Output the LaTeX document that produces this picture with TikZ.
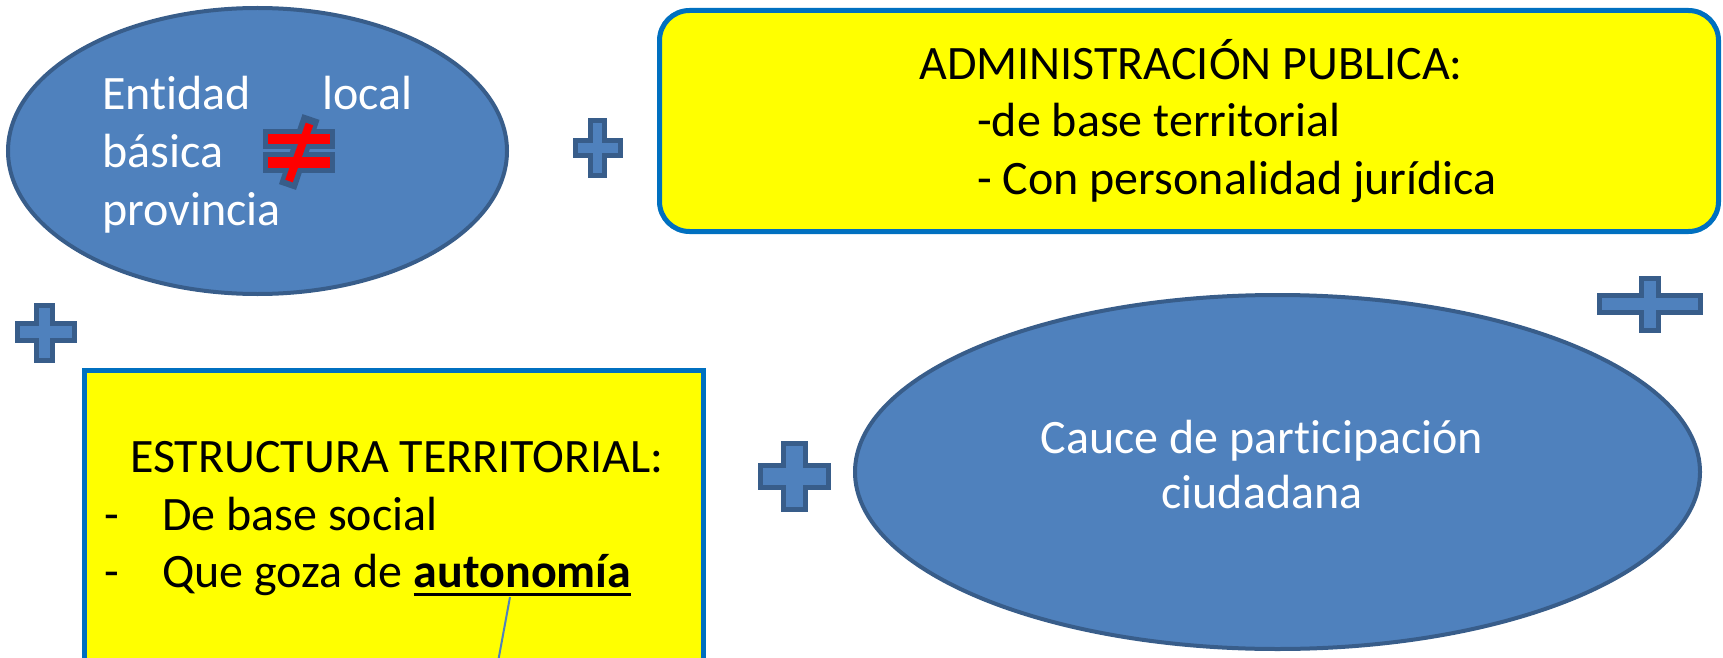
\documentclass[tikz,border=0pt]{standalone}
\usepackage{fontspec}
\setmainfont[Ligatures=NoCommon]{Carlito}
\usetikzlibrary{shapes.geometric}
\definecolor{blueA}{HTML}{4F81BD}
\definecolor{blueB}{HTML}{385D8A}
\definecolor{blueC}{HTML}{0070C0}
\definecolor{yel}{HTML}{FFFF00}
\definecolor{neqred}{HTML}{FF0000}
\tikzset{
  bubble/.style={ellipse, fill=blueA, draw=blueB, line width=4pt, inner sep=0pt},
  notebox/.style={rectangle, fill=yel, draw=blueC, line width=5pt, inner sep=0pt},
  txt/.style={font=\fontsize{48}{57}\selectfont, inner sep=0pt, anchor=base west},
  wtxt/.style={txt, text=white},
  plussign/.style={fill=blueA, draw=blueB, line width=5pt, line join=miter},
  link/.style={draw=blueA, line width=2pt},
  uline/.style={draw=black, line width=3pt},
}
\newcommand\PlusSign[8]{%
  \path[plussign] (#2,#5) -- (#3,#5) -- (#3,#6) -- (#4,#6) -- (#4,#7) -- (#3,#7)
    -- (#3,#8) -- (#2,#8) -- (#2,#7) -- (#1,#7) -- (#1,#6) -- (#2,#6) -- cycle;}
\begin{document}
\begin{tikzpicture}[x=1pt, y=-1pt]
\useasboundingbox (0,0) rectangle (1723,658);

% shapes
\node[bubble, minimum width=499pt, minimum height=286pt] (e1) at (257.5,151) {};
\node[bubble, minimum width=845pt, minimum height=354pt] (e2) at (1277.5,472) {};
\node[notebox, rounded corners=30pt, minimum width=1059pt, minimum height=221pt] (admin) at (1189,121) {};
\node[notebox, minimum width=619pt, minimum height=310pt] (estr) at (394,525.5) {};

% plus signs
\PlusSign{575.5}{590.5}{604.5}{620.5}{120.5}{140.5}{155.5}{175.5}
\PlusSign{1599.5}{1641.5}{1658.5}{1700.5}{278.5}{295.5}{312.5}{330.5}
\PlusSign{17.5}{36.5}{52.5}{74.5}{305.5}{323.5}{340.5}{360.5}
\PlusSign{760.5}{783.5}{805.5}{828.5}{443.5}{465.5}{487.5}{509.5}

% texts in first ellipse
\node[wtxt] (t1) at (102,110) {Entidad};
\node[wtxt, anchor=base east] (t2) at (413,110) {local};
\node[wtxt] (t3) at (102,167) {básica};
\node[wtxt] (t4) at (102,225) {provincia};

% not-equal sign
\fill[blueB] (263,129) rectangle (335,149);
\fill[blueB] (263,152) rectangle (335,173);
\draw[blueB, line width=18pt] (311,117) -- (287.5,187);
\fill[neqred] (268,134) rectangle (330,144);
\fill[neqred] (268,157) rectangle (330,168);
\draw[neqred, line width=8pt] (309.5,124) -- (289,181);

% administration box text
\node[txt] (a1) at (919,80) {ADMINISTRACIÓN PUBLICA:};
\node[txt] (a2) at (977,136) {-de base territorial};
\node[txt] (a3) at (977,194) {- Con personalidad jurídica};

% estructura box text
\node[txt] (s1) at (130,472) {ESTRUCTURA TERRITORIAL:};
\node[txt] (s2d) at (104,530) {-};
\node[txt] (s2) at (162,530) {De base social};
\node[txt] (s3d) at (104,587) {-};
\node[txt] (s3) at (162,587) {Que goza de};
\node[txt, font=\fontsize{48}{57}\selectfont\bfseries, anchor=base west] (auto) at ([xshift=10.8pt]s3.base east) {autonomía};
\draw[uline] ([yshift=-7pt]auto.base west) -- ([yshift=-7pt]auto.base east);
\coordinate (lt) at (510,597);
\coordinate (lb) at (498,662);
\draw[link] (lt) -- (lb);

% participation ellipse text
\node[wtxt, anchor=base] (p1) at (1262,453) {Cauce de participación};
\node[wtxt, anchor=base] (p2) at (1262,508) {ciudadana};
\end{tikzpicture}
\end{document}
